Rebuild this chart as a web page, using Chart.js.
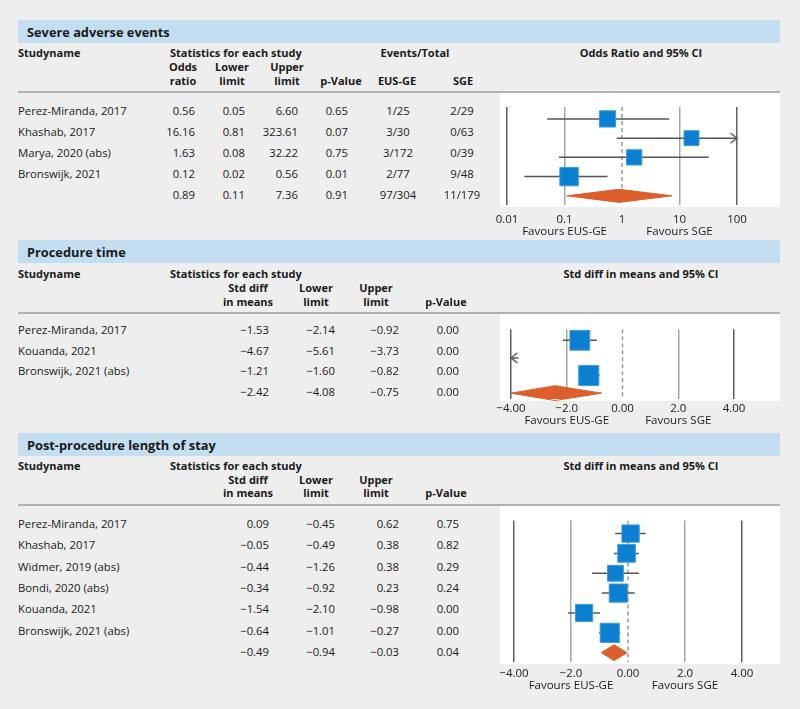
<!DOCTYPE html>
<html>
<head>
<meta charset="utf-8">
<script src="https://cdn.jsdelivr.net/npm/chart.js@4.4.0/dist/chart.umd.min.js"></script>
<style>
  body { margin: 0; background: #eeeeee; font-family: "Open Sans", sans-serif; color: #1a1a1a; }
  #page { position: relative; width: 800px; height: 709px; overflow: hidden; }
  .bar { position: absolute; left: 18px; width: 762px; height: 23px; background: #c3ddf1; }
  .bar span { position: absolute; left: 9px; top: 3px; font-weight: bold; font-size: 12.8px; }
  .t { position: absolute; white-space: nowrap; font-size: 11.3px; line-height: 14px; transform: translateY(-50%); }
  .t.r { transform: translate(-100%, -50%); }
  .t.c { transform: translate(-50%, -50%); }
  .b { font-weight: bold; font-size: 11px; }
  .sep { position: absolute; left: 18px; width: 762px; height: 2px; background: #b2b2b2; }
  canvas { position: absolute; left: 480px; }
</style>
</head>
<body>
<div id="page">
  <div class="bar" style="top:20px"><span>Severe adverse events</span></div>
  <div class="sep" style="top:91px"></div>
  <canvas id="sadChart" width="320" height="148" style="top:93px"></canvas>

  <div class="bar" style="top:240px"><span>Procedure time</span></div>
  <div class="sep" style="top:312px"></div>
  <canvas id="ptChart" width="320" height="121" style="top:314px"></canvas>

  <div class="bar" style="top:433px"><span>Post-procedure length of stay</span></div>
  <div class="sep" style="top:504px"></div>
  <canvas id="losChart" width="320" height="192" style="top:506px"></canvas>
</div>
<script>
// ---- Severe adverse events (odds ratio) ----
const sadStudies = ['Perez-Miranda, 2017', 'Khashab, 2017', 'Marya, 2020 (abs)', 'Bronswijk, 2021'];
const sadOR = [0.56, 16.16, 1.63, 0.12];
const sadLower = [0.05, 0.81, 0.08, 0.02];
const sadUpper = [6.60, 323.61, 32.22, 0.56];
const sadP = [0.65, 0.07, 0.75, 0.01];
const sadEus = ['1/25', '3/30', '3/172', '2/77'];
const sadSge = ['2/29', '0/63', '0/39', '9/48'];
const sadWeight = [25, 21, 22, 32];
const sadPooled = [0.89, 0.11, 7.36, 0.91];
const sadPooledEvents = ['97/304', '11/179'];
const sadTicks = [0.01, 0.1, 1, 10, 100];
const sadTickLabels = ['0.01', '0.1', '1', '10', '100'];

// ---- Procedure time (std diff in means) ----
const ptStudies = ['Perez-Miranda, 2017', 'Kouanda, 2021', 'Bronswijk, 2021 (abs)'];
const ptSMD = [-1.53, -4.67, -1.21];
const ptLower = [-2.14, -5.61, -1.60];
const ptUpper = [-0.92, -3.73, -0.82];
const ptP = [0.00, 0.00, 0.00];
const ptWeight = [34, 31, 35];
const ptPooled = [-2.42, -4.08, -0.75, 0.00];

// ---- Post-procedure length of stay (std diff in means) ----
const losStudies = ['Perez-Miranda, 2017', 'Khashab, 2017', 'Widmer, 2019 (abs)', 'Bondi, 2020 (abs)', 'Kouanda, 2021', 'Bronswijk, 2021 (abs)'];
const losSMD = [0.09, -0.05, -0.44, -0.34, -1.54, -0.64];
const losLower = [-0.45, -0.49, -1.26, -0.92, -2.10, -1.01];
const losUpper = [0.62, 0.38, 0.38, 0.23, -0.98, -0.27];
const losP = [0.75, 0.82, 0.29, 0.24, 0.00, 0.00];
const losWeight = [16.2, 16.8, 13.5, 17.8, 15.9, 19.8];
const losPooled = [-0.49, -0.94, -0.03, 0.04];

const smdTicks = [-4, -2, 0, 2, 4];
const smdTickLabels = ['\u22124.00', '\u22122.0', '0.00', '2.0', '4.00'];
const favourLabels = [null, 'Favours EUS-GE', null, 'Favours SGE', null];

const page = document.getElementById('page');
const fmt = v => v.toFixed(2).replace('-', '\u2212');

function put(x, y, s, align, bold) {
  const d = document.createElement('div');
  d.className = 't' + (align ? ' ' + align : '') + (bold ? ' b' : '');
  d.style.left = x + 'px';
  d.style.top = y + 'px';
  d.textContent = s;
  page.appendChild(d);
}

// ---------- tables ----------
// panel 1
put(18, 53, 'Studyname', '', true);
put(170, 53, 'Statistics for each study', '', true);
put(415, 53, 'Events/Total', 'c', true);
put(641, 53, 'Odds Ratio and 95% CI', 'c', true);
put(183, 67, 'Odds', 'c', true); put(232, 67, 'Lower', 'c', true); put(287, 67, 'Upper', 'c', true);
put(183, 81, 'ratio', 'c', true); put(232, 81, 'limit', 'c', true); put(287, 81, 'limit', 'c', true);
put(341, 81, 'p-Value', 'c', true); put(397, 81, 'EUS-GE', 'c', true); put(463, 81, 'SGE', 'c', true);
sadStudies.forEach((s, i) => {
  const y = 111 + 21 * i;
  put(18, y, s);
  put(195, y, fmt(sadOR[i]), 'r'); put(245, y, fmt(sadLower[i]), 'r');
  put(298, y, fmt(sadUpper[i]), 'r'); put(348, y, fmt(sadP[i]), 'r');
  put(398, y, sadEus[i], 'c'); put(462, y, sadSge[i], 'c');
});
put(195, 195, fmt(sadPooled[0]), 'r'); put(245, 195, fmt(sadPooled[1]), 'r');
put(298, 195, fmt(sadPooled[2]), 'r'); put(348, 195, fmt(sadPooled[3]), 'r');
put(398, 195, sadPooledEvents[0], 'c'); put(462, 195, sadPooledEvents[1], 'c');

// panels 2 and 3 share a layout
function smdTable(top, sub1, sub2, firstRow, gap, names, est, lo, hi, p, pooled) {
  put(18, top, 'Studyname', '', true);
  put(170, top, 'Statistics for each study', '', true);
  put(641, top, 'Std diff in means and 95% CI', 'c', true);
  put(248, sub1, 'Std diff', 'c', true); put(316, sub1, 'Lower', 'c', true); put(376, sub1, 'Upper', 'c', true);
  put(248, sub2, 'in means', 'c', true); put(316, sub2, 'limit', 'c', true); put(376, sub2, 'limit', 'c', true);
  put(446, sub2, 'p-Value', 'c', true);
  names.forEach((s, i) => {
    const y = firstRow + gap * i;
    put(18, y, s);
    put(269, y, fmt(est[i]), 'r'); put(335, y, fmt(lo[i]), 'r');
    put(399, y, fmt(hi[i]), 'r'); put(459, y, fmt(p[i]), 'r');
  });
  const y = firstRow + gap * names.length;
  put(269, y, fmt(pooled[0]), 'r'); put(335, y, fmt(pooled[1]), 'r');
  put(399, y, fmt(pooled[2]), 'r'); put(459, y, fmt(pooled[3]), 'r');
}
smdTable(274, 288, 302, 330, 20.7, ptStudies, ptSMD, ptLower, ptUpper, ptP, ptPooled);
smdTable(466, 480, 493, 524, 21.33, losStudies, losSMD, losLower, losUpper, losP, losPooled);

// ---------- forest plots ----------
Chart.defaults.font.family = '"Open Sans", sans-serif';
Chart.defaults.color = '#1a1a1a';

// arrow head for truncated intervals, tip at the centre of the image
const chevron = document.createElement('canvas');
chevron.width = 16; chevron.height = 12;
(function () {
  const c = chevron.getContext('2d');
  c.strokeStyle = '#555';
  c.lineWidth = 1.5;
  c.beginPath();
  c.moveTo(1.5, 1); c.lineTo(8, 6); c.lineTo(1.5, 11);
  c.stroke();
})();

const whiteBox = {
  id: 'whiteBox',
  beforeDraw(chart) {
    const a = chart.chartArea;
    chart.ctx.save();
    chart.ctx.fillStyle = '#ffffff';
    chart.ctx.fillRect(a.left, 0, a.right - a.left, a.bottom + 2);
    chart.ctx.restore();
  }
};

function forest(id, o) {
  const n = o.est.length;
  const yMin = (o.areaTop - o.firstRow) / o.gap;
  const yMax = (o.areaBottom - o.firstRow) / o.gap;
  const clampX = v => Math.min(Math.max(v, o.limits[0]), o.limits[1]);
  const datasets = [];

  // study boxes
  const boxes = [], boxR = [];
  o.est.forEach((v, i) => {
    if (v >= o.limits[0] && v <= o.limits[1]) {
      boxes.push({ x: v, y: i });
      boxR.push(o.boxScale * Math.sqrt(o.weight[i]) / Math.SQRT2);
    }
  });
  datasets.push({
    data: boxes, showLine: false, pointStyle: 'rect', pointRadius: boxR, pointHoverRadius: boxR,
    pointBackgroundColor: '#0b7fd0', pointBorderColor: '#3d9bdd', pointBorderWidth: 1
  });

  // pooled diamond
  const [pe, pl, ph] = o.pooled;
  const h = o.diamondHalf;
  datasets.push({
    data: [{ x: clampX(pl), y: n }, { x: pe, y: n - h }, { x: clampX(ph), y: n }, { x: pe, y: n + h }, { x: clampX(pl), y: n }],
    fill: 'shape', backgroundColor: '#dc5e2b', borderColor: '#dc5e2b', borderWidth: 1, pointRadius: 0, clip: false
  });

  // confidence intervals
  o.lo.forEach((l, i) => {
    datasets.push({
      data: [{ x: clampX(l), y: i }, { x: clampX(o.hi[i]), y: i }],
      borderColor: '#555555', borderWidth: 1.5, pointRadius: 0
    });
  });

  // arrows where an interval runs past the plot limits
  const arrows = [], rot = [];
  o.lo.forEach((l, i) => {
    if (l < o.limits[0]) { arrows.push({ x: o.limits[0], y: i }); rot.push(180); }
    if (o.hi[i] > o.limits[1]) { arrows.push({ x: o.limits[1], y: i }); rot.push(0); }
  });
  datasets.push({ data: arrows, showLine: false, pointStyle: chevron, pointRotation: rot, pointRadius: 6, clip: false });

  // line of no effect
  datasets.push({
    data: [{ x: o.nullValue, y: yMin }, { x: o.nullValue, y: yMax }],
    borderColor: '#9a9a9a', borderWidth: 1.5, borderDash: [4, 3], pointRadius: 0
  });

  const gridColors = ['#5f5f5f', '#a5a5a5', 'rgba(0,0,0,0)', '#a5a5a5', '#5f5f5f'];

  return new Chart(document.getElementById(id), {
    type: 'line',
    data: { datasets },
    plugins: [whiteBox],
    options: {
      responsive: false,
      animation: false,
      events: [],
      layout: { padding: { left: 20, right: 20, top: o.areaTop - o.boxTop, bottom: 0 } },
      plugins: { legend: { display: false }, tooltip: { enabled: false } },
      scales: {
        x: {
          type: o.type, min: o.min, max: o.max,
          border: { display: false },
          grid: { color: c => gridColors[c.index], lineWidth: 1.5, drawTicks: false },
          ticks: {
            autoSkip: false, maxRotation: 0, padding: o.tickPad, color: '#1a1a1a',
            font: { size: 11.5, lineHeight: 1.1 },
            callback: (v, i) => favourLabels[i] ? [o.tickLabels[i], favourLabels[i]] : o.tickLabels[i]
          },
          afterBuildTicks: s => { s.ticks = o.ticks.map(v => ({ value: v })); },
          afterFit: s => { s.height = 36; }
        },
        y: { type: 'linear', display: false, reverse: true, min: yMin, max: yMax }
      }
    }
  });
}

forest('sadChart', {
  type: 'logarithmic', min: Math.pow(10, -2.122), max: Math.pow(10, 2.748),
  ticks: sadTicks, tickLabels: sadTickLabels, limits: [0.01, 100], nullValue: 1,
  est: sadOR, lo: sadLower, hi: sadUpper, weight: sadWeight, pooled: sadPooled,
  boxTop: 93, areaTop: 98, areaBottom: 205, firstRow: 111, gap: 21,
  boxScale: 3.25, diamondHalf: 0.34, tickPad: 8
});

forest('ptChart', {
  type: 'linear', min: -4.394, max: 5.649,
  ticks: smdTicks, tickLabels: smdTickLabels, limits: [-4, 4], nullValue: 0,
  est: ptSMD, lo: ptLower, hi: ptUpper, weight: ptWeight, pooled: ptPooled,
  boxTop: 314, areaTop: 317, areaBottom: 399, firstRow: 330, gap: 20.7,
  boxScale: 3.4, diamondHalf: 0.42, tickPad: 3
});

forest('losChart', {
  type: 'linear', min: -4.491, max: 5.333,
  ticks: smdTicks, tickLabels: smdTickLabels, limits: [-4, 4], nullValue: 0,
  est: losSMD, lo: losLower, hi: losUpper, weight: losWeight, pooled: losPooled,
  boxTop: 506, areaTop: 510, areaBottom: 662, firstRow: 524, gap: 21.33,
  boxScale: 4.3, diamondHalf: 0.4, tickPad: 5
});
</script>
</body>
</html>
